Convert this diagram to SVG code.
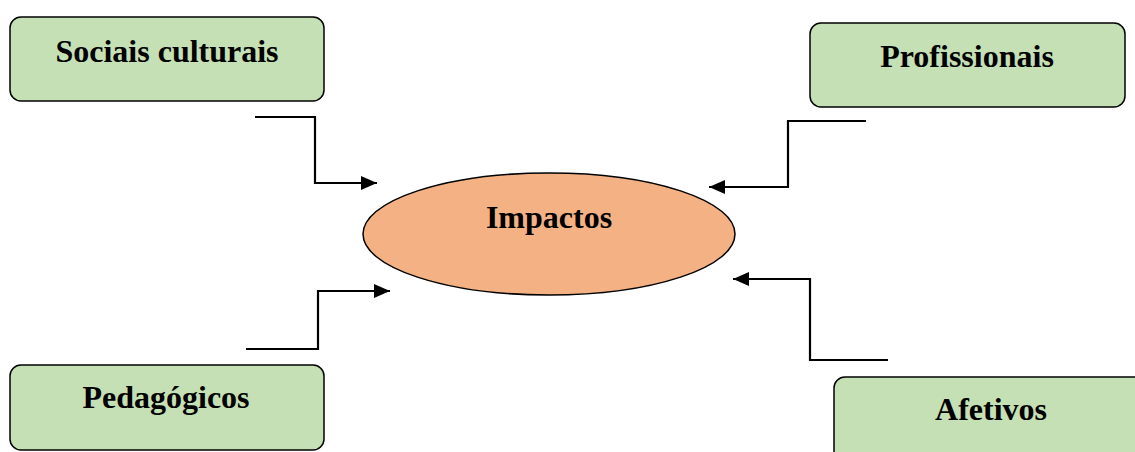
<svg xmlns="http://www.w3.org/2000/svg" width="1135" height="452" viewBox="0 0 1135 452">
  <style>
    .box { fill: #C5E0B4; stroke: #000; stroke-width: 1.5; }
    .hub { fill: #F4B183; stroke: #000; stroke-width: 1.5; }
    .label { font-family: "Liberation Serif", "Times New Roman", serif; font-weight: bold; font-size: 32px; fill: #000; text-anchor: middle; }
    .link { fill: none; stroke: #000; stroke-width: 2.2; marker-end: url(#head); }
  </style>
  <defs>
    <marker id="head" viewBox="0 0 16 14" refX="16" refY="7" markerWidth="16" markerHeight="14" markerUnits="userSpaceOnUse" orient="auto">
      <path d="M0,0 L16,7 L0,14 Z" fill="#000"/>
    </marker>
  </defs>
  <rect width="1135" height="452" fill="#fff"/>

  <g id="connectors">
    <path class="link" d="M255,117 H315 V183 H377"/>
    <path class="link" d="M866,121 H788 V187 H709"/>
    <path class="link" d="M246,349 H318 V291 H390"/>
    <path class="link" d="M888,360 H810 V279 H733"/>
  </g>

  <g id="impactos">
    <ellipse class="hub" cx="549" cy="234" rx="186" ry="61"/>
    <text class="label" x="549" y="228">Impactos</text>
  </g>

  <g id="sociais-culturais">
    <rect class="box" x="10" y="17" width="314" height="84" rx="11"/>
    <text class="label" x="167" y="62">Sociais culturais</text>
  </g>

  <g id="profissionais">
    <rect class="box" x="810" y="23" width="315" height="84" rx="11"/>
    <text class="label" x="967" y="67">Profissionais</text>
  </g>

  <g id="pedagogicos">
    <rect class="box" x="10" y="365" width="314" height="85" rx="11"/>
    <text class="label" x="166" y="408">Pedagógicos</text>
  </g>

  <g id="afetivos">
    <rect class="box" x="834" y="377" width="315" height="90" rx="11"/>
    <text class="label" x="991" y="420">Afetivos</text>
  </g>
</svg>
